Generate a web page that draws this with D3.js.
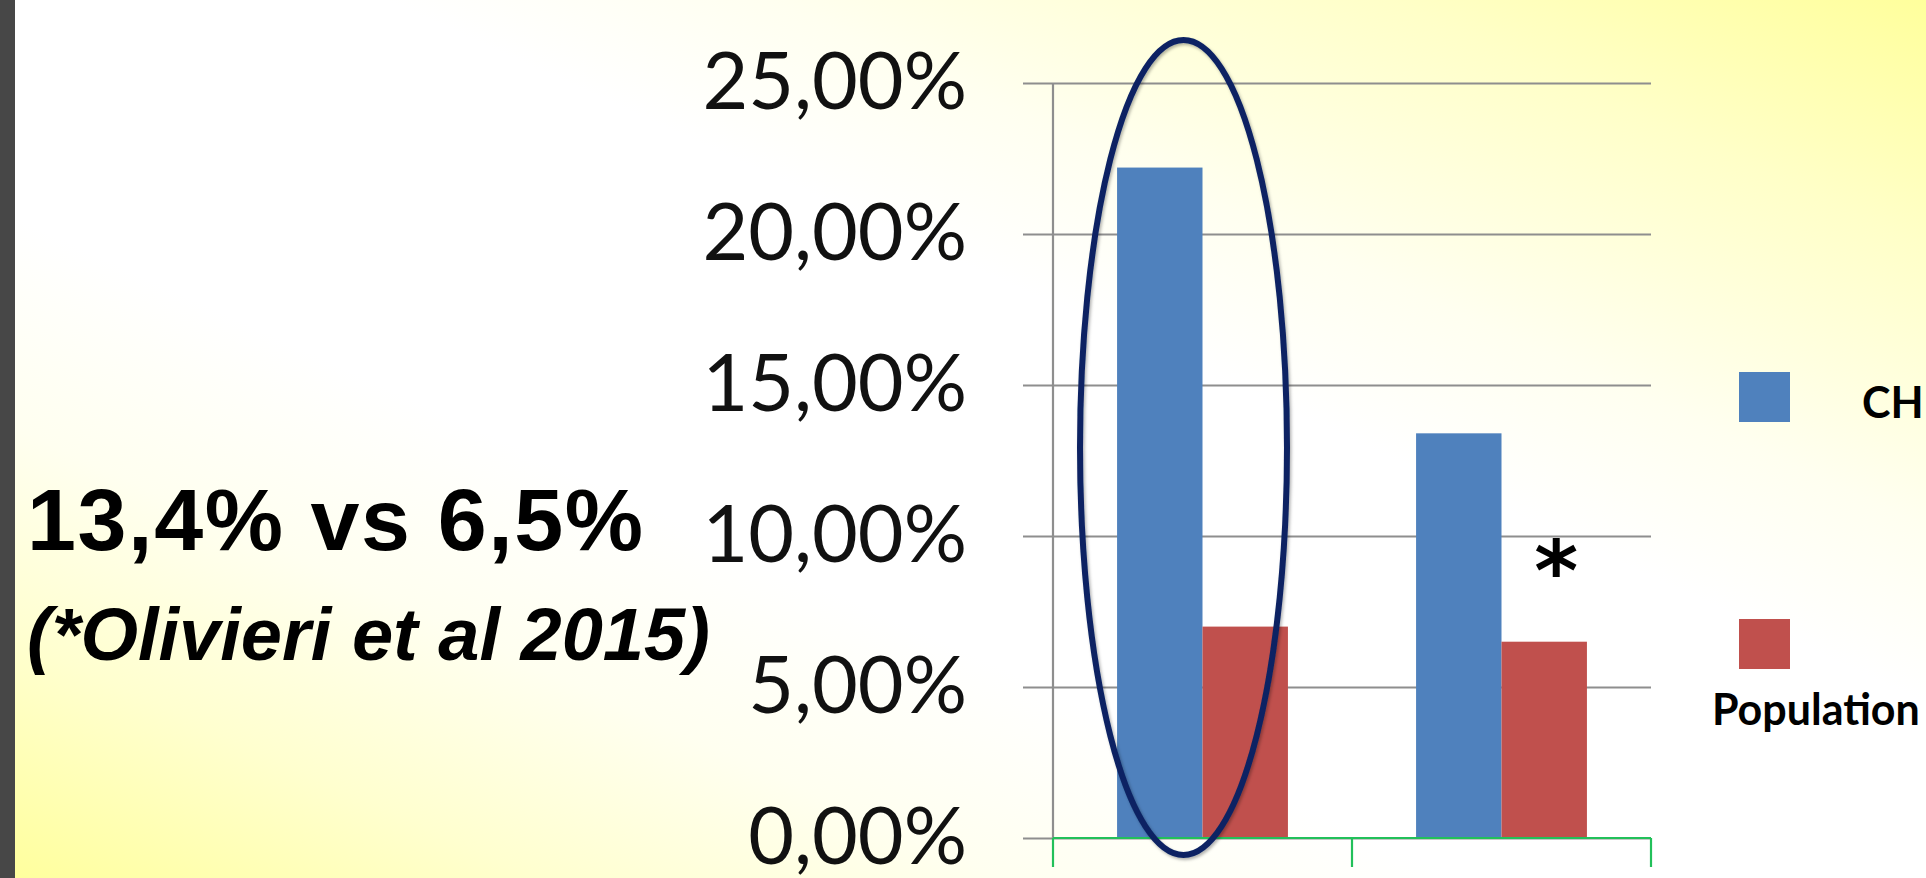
<!DOCTYPE html>
<html>
<head>
<meta charset="utf-8">
<script src="https://cdn.jsdelivr.net/npm/d3@7"></script>
<style>
  html, body { margin: 0; padding: 0; overflow: hidden; background: #fff; }
  svg { display: block; }
</style>
</head>
<body>
<svg id="chart" width="1926" height="878"></svg>
<script>
// ---- data ----
const categories = ["Group 1", "Group 2"];
const seriesNames = ["CH", "Population"];
const chValues = [22.2, 13.4];
const populationValues = [7.0, 6.5];
const yTicks = [0, 5, 10, 15, 20, 25];
const headline = "13,4% vs 6,5%";
const citation = "(*Olivieri et al 2015)";
const markText = "*";

const colors = { CH: "#4f81bd", Population: "#c0504d" };

const svg = d3.select("#chart");
const W = 1926, H = 878;

// ---- background ----
const defs = svg.append("defs");
const grad = defs.append("linearGradient").attr("id", "bg")
  .attr("x1", 1).attr("y1", 0).attr("x2", 0).attr("y2", 1);
[[0, "#ffff9c"], [0.14, "#ffffc8"], [0.3, "#fffff0"], [0.4, "#ffffff"],
 [0.62, "#ffffff"], [0.74, "#fffff0"], [0.86, "#ffffcf"], [1, "#ffff9c"]]
  .forEach(([o, c]) => grad.append("stop").attr("offset", o).attr("stop-color", c));

const shadow = defs.append("filter").attr("id", "shadow")
  .attr("x", "-10%").attr("y", "-10%").attr("width", "120%").attr("height", "120%");
shadow.append("feDropShadow").attr("dx", 1.5).attr("dy", 2).attr("stdDeviation", 1.5)
  .attr("flood-color", "#000").attr("flood-opacity", 0.3);

svg.append("rect").attr("width", W).attr("height", H).attr("fill", "url(#bg)");
svg.append("rect").attr("width", 15).attr("height", H).attr("fill", "#474747");

// ---- scales ----
const y = d3.scaleLinear().domain([0, 25]).range([838, 83]);
const x = d3.scaleBand().domain(categories).range([1053, 1651]).paddingInner(0).paddingOuter(0);
const xs = d3.scaleBand().domain(seriesNames).range([0, x.bandwidth()]).paddingInner(0).paddingOuter(0.75);

// ---- gridlines + y labels via axis ----
const yAxis = d3.axisLeft(y).tickValues(yTicks)
  .tickSize(-(1651 - 1023)).tickPadding(56)
  .tickFormat(d => d.toFixed(2).replace(".", ",") + "%");
const gy = svg.append("g").attr("transform", "translate(1023,0)").call(yAxis);
gy.select(".domain").remove();
gy.selectAll(".tick line").attr("stroke", "#8e8e8e").attr("stroke-width", 2.2)
  .attr("x2", 1651 - 1023).attr("x1", 0);
gy.selectAll(".tick text")
  .attr("font-family", "Lato, 'Open Sans', sans-serif")
  .attr("font-size", 79).attr("fill", "#111")
  .attr("dy", null).attr("y", 25)
  .attr("x", -56);

// vertical axis line
svg.append("line").attr("x1", 1053).attr("x2", 1053).attr("y1", y(25)).attr("y2", y(0))
  .attr("stroke", "#8e8e8e").attr("stroke-width", 2.2);

// ---- bars ----
const rows = categories.map((c, i) => ({ cat: c, CH: chValues[i], Population: populationValues[i] }));
const groups = svg.append("g").selectAll("g").data(rows).join("g")
  .attr("transform", d => `translate(${x(d.cat)},0)`);
groups.selectAll("rect").data(d => seriesNames.map(s => ({ s, v: d[s] }))).join("rect")
  .attr("x", d => xs(d.s)).attr("width", xs.bandwidth())
  .attr("y", d => y(d.v)).attr("height", d => y(0) - y(d.v))
  .attr("fill", d => colors[d.s]);

// ---- x axis (green) ----
const gx = svg.append("g");
gx.append("line").attr("x1", 1053).attr("x2", 1651).attr("y1", y(0)).attr("y2", y(0))
  .attr("stroke", "#22c05a").attr("stroke-width", 2.2);
const bounds = categories.map(c => x(c)).concat([x(categories[categories.length - 1]) + x.bandwidth()]);
gx.selectAll("line.t").data(bounds).join("line").attr("class", "t")
  .attr("x1", d => d).attr("x2", d => d).attr("y1", y(0)).attr("y2", y(0) + 29)
  .attr("stroke", "#22c05a").attr("stroke-width", 2.2);

// ---- annotation ellipse ----
svg.append("ellipse")
  .attr("cx", x(categories[0]) + x.bandwidth() / 2 - 19)
  .attr("cy", (y(0) + y(25)) / 2 - 13)
  .attr("rx", 103.5).attr("ry", (y(0) - y(25)) / 2 + 30)
  .attr("fill", "none").attr("stroke", "#0b2463").attr("stroke-width", 6)
  .attr("filter", "url(#shadow)");

// ---- asterisk ----
svg.append("text")
  .attr("x", x(categories[1]) + xs("Population") + xs.bandwidth() / 2 + 12)
  .attr("y", y(9.4) + 46)
  .attr("text-anchor", "middle")
  .attr("font-family", "'DejaVu Sans', sans-serif").attr("font-weight", 700)
  .attr("font-size", 84).attr("fill", "#000").text(markText);

// ---- legend ----
const legY = [372, 619];
const leg = svg.append("g");
seriesNames.forEach((s, i) => {
  leg.append("rect").attr("x", 1739).attr("y", legY[i]).attr("width", 51).attr("height", 50)
    .attr("fill", colors[s]);
});
leg.append("text").attr("x", 1862).attr("y", 418).text(seriesNames[0])
  .attr("font-family", "Lato, sans-serif").attr("font-weight", 700).attr("font-size", 43).attr("fill", "#000");
leg.append("text").attr("x", 1712).attr("y", 725).text(seriesNames[1])
  .attr("font-family", "Lato, sans-serif").attr("font-weight", 700).attr("font-size", 43).attr("fill", "#000");

// ---- left text ----
svg.append("text").attr("x", 27).attr("y", 550).text(headline)
  .attr("font-family", "'Liberation Sans', Arial, sans-serif").attr("font-weight", 700)
  .attr("font-size", 88).attr("letter-spacing", 1.6).attr("fill", "#000");
svg.append("text").attr("x", 27).attr("y", 660).text(citation)
  .attr("font-family", "'Liberation Sans', Arial, sans-serif").attr("font-weight", 700)
  .attr("font-style", "italic").attr("font-size", 74).attr("fill", "#000");
</script>
</body>
</html>
